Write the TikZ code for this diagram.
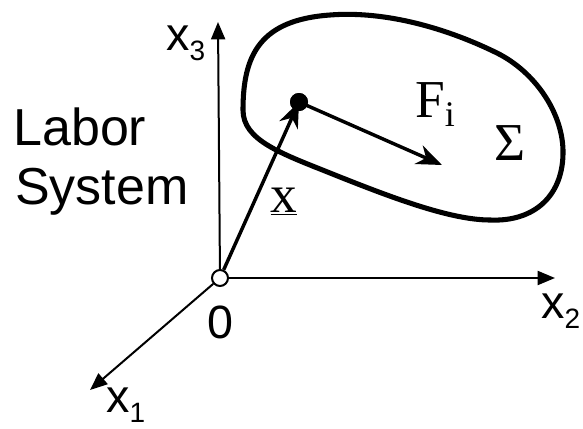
\documentclass[tikz,border=0pt]{standalone}
\usepackage{fontspec}
\setmainfont{Liberation Sans}
\newfontfamily\serifrm{Liberation Serif}
\usetikzlibrary{arrows.meta,positioning}
\definecolor{InkB}{RGB}{0,0,0}
\newcommand{\lowsub}[1]{\lower8pt\hbox{\fontsize{21}{21}\selectfont #1}}

\begin{document}
\begin{tikzpicture}[x=0.75pt,y=-0.75pt,
    axis/.style={line width=1.5pt,InkB,-{Triangle[length=13pt,width=10.5pt]}},
    vec/.style={line width=2.6pt,InkB,-{Stealth[length=19pt,width=15pt,inset=6pt]}},
    sanslbl/.style={inner sep=0pt,font=\fontsize{35}{40}\selectfont},
    serlbl/.style={inner sep=0pt,font=\serifrm\fontsize{40}{44}\selectfont}]
  \useasboundingbox (0,0) rectangle (583,429);
  % the body Sigma
  \draw[line width=3.8pt,InkB,line join=round]
      (243,110) .. controls (243,55) and (260,20) .. (330,15)
      .. controls (380,11) and (440,25) .. (497,53)
      .. controls (535,72) and (562,112) .. (563,150)
      .. controls (564,195) and (535,222) .. (490,220)
      .. controls (450,220) and (390,197) .. (330,173)
      .. controls (280,153) and (243,140) .. cycle;
  % frame
  \node[circle,draw,fill=white,line width=1.5pt,minimum size=12pt,inner sep=0pt] (O) at (220,278) {};
  \coordinate (x3end) at (218,22);
  \coordinate (x2end) at (555,278);
  \coordinate (x1end) at (90,390);
  \draw[axis] (O) -- (x3end);
  \draw[axis] (O) -- (x2end);
  \draw[axis] (O) -- (x1end);
  \node[circle,fill=InkB,minimum size=13.5pt,inner sep=0pt] (P) at (299,102) {};
  \coordinate (Ftip) at (442,165);
  \draw[vec] (O) -- (P.center);
  \draw[vec] (P.center) -- (Ftip);
  \node[circle,fill=InkB,minimum size=13.5pt,inner sep=0pt] at (P) {};
  % labels
  \node[sanslbl,font=\fontsize{39}{44}\selectfont,anchor=base west] (lab) at (13,145) {Labor};
  \node[sanslbl,font=\fontsize{39}{44}\selectfont,anchor=base west] (sys) at (15,204) {System};
  \node[sanslbl,anchor=base west] (x3l) at (166,50) {x\lowsub{3}};
  \node[sanslbl,anchor=base west] (x2l) at (541,318) {x\lowsub{2}};
  \node[sanslbl,anchor=base west] (x1l) at (106,412) {x\lowsub{1}};
  \node[sanslbl,anchor=base] (zero) at (220,338) {0};
  \node[serlbl,anchor=base west] (Fl) at (415,117) {F\lower7pt\hbox{\fontsize{27}{27}\selectfont i}};
  \node[serlbl,anchor=base] (Sig) at (510,160) {Σ};
  \node[serlbl,anchor=base] (xl) at (284,212) {\underline{x}};
\end{tikzpicture}
\end{document}
